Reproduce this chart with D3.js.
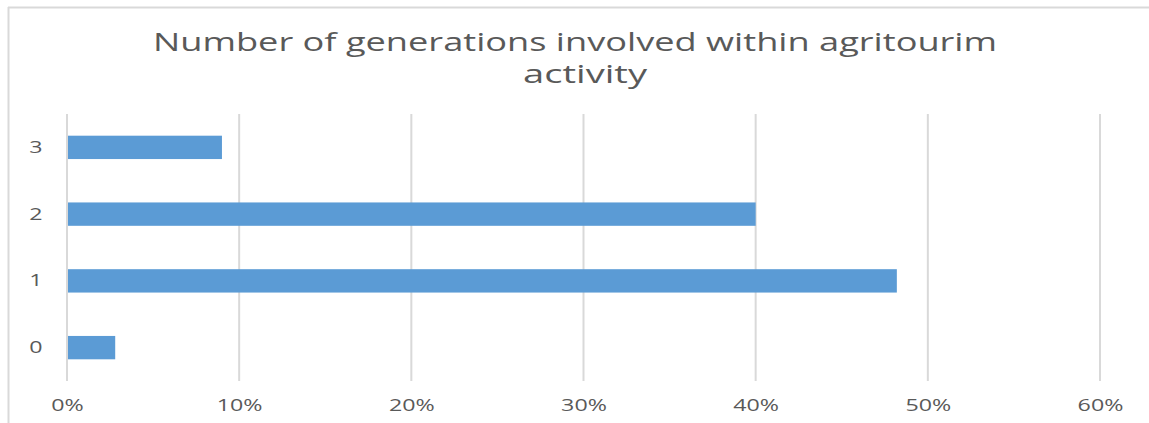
<!DOCTYPE html>
<html>
<head>
<meta charset="utf-8">
<script src="https://cdn.jsdelivr.net/npm/d3@7"></script>
<style>
  html, body { margin: 0; padding: 0; background: #fff; }
  svg { display: block; }
</style>
</head>
<body>
<svg id="chart" width="1149" height="423"></svg>
<script>
const categories = ["0", "1", "2", "3"];
const values = [0.028, 0.482, 0.40, 0.09];
const xTicks = [0, 0.1, 0.2, 0.3, 0.4, 0.5, 0.6];
const titleLines = ["Number of generations involved within agritourim", "activity"];

(function () {
const svg = d3.select("#chart");
const W = 1149, H = 423;
const textColor = "#595959";
const font = "'Open Sans', 'Liberation Sans', sans-serif";

// outer border (top and left visible)
svg.append("line").attr("x1", 8).attr("x2", W).attr("y1", 7.5).attr("y2", 7.5)
  .attr("stroke", "#d9d9d9").attr("stroke-width", 2);
svg.append("line").attr("x1", 8.5).attr("x2", 8.5).attr("y1", 7).attr("y2", H)
  .attr("stroke", "#d9d9d9").attr("stroke-width", 2);

const pLeft = 67, pRight = 1100, pTop = 114, pBottom = 381;
const x = d3.scaleLinear().domain([0, 0.6]).range([pLeft, pRight]);
const y = d3.scaleBand().domain(categories.slice().reverse()).range([pTop, pBottom]).paddingInner(0.65).paddingOuter(0.325);

// gridlines
svg.append("g").selectAll("line").data(xTicks).join("line")
  .attr("x1", d => x(d)).attr("x2", d => x(d))
  .attr("y1", pTop).attr("y2", pBottom)
  .attr("stroke", "#d9d9d9").attr("stroke-width", 2);

// bars
svg.append("g").selectAll("rect").data(categories).join("rect")
  .attr("x", x(0) + 1)
  .attr("y", d => y(d))
  .attr("width", (d, i) => x(values[i]) - x(0) - 1)
  .attr("height", y.bandwidth())
  .attr("fill", "#5b9bd5");

// x axis
const xAxis = d3.axisBottom(x).tickValues(xTicks).tickFormat(d3.format(".0%")).tickSize(0).tickPadding(0);
const gx = svg.append("g").attr("transform", `translate(0,${pBottom})`).call(xAxis);
gx.select(".domain").remove();
gx.selectAll(".tick text")
  .attr("y", 30).attr("dy", 0)
  .attr("fill", textColor)
  .style("font-family", font).style("font-size", "15.5px")
  .attr("transform", "scale(1.5,1)");

// y axis
const yAxis = d3.axisLeft(y).tickSize(0).tickPadding(0);
const gy = svg.append("g").attr("transform", `translate(36,0)`).call(yAxis);
gy.select(".domain").remove();
gy.selectAll(".tick text")
  .attr("x", 0).attr("dy", "0.36em")
  .attr("text-anchor", "middle")
  .attr("fill", textColor)
  .style("font-family", font).style("font-size", "15.5px")
  .attr("transform", "scale(1.5,1)");

// title
const tl = svg.append("g");
tl.append("text").attr("x", 575).attr("y", 51)
  .attr("text-anchor", "middle")
  .attr("fill", textColor)
  .style("font-family", font).style("font-size", "25.5px")
  .attr("textLength", 844).attr("lengthAdjust", "spacingAndGlyphs")
  .text(titleLines[0]);
tl.append("text").attr("x", 585).attr("y", 83)
  .attr("text-anchor", "middle")
  .attr("fill", textColor)
  .style("font-family", font).style("font-size", "25.5px")
  .attr("textLength", 124).attr("lengthAdjust", "spacingAndGlyphs")
  .text(titleLines[1]);
})();
</script>
</body>
</html>
